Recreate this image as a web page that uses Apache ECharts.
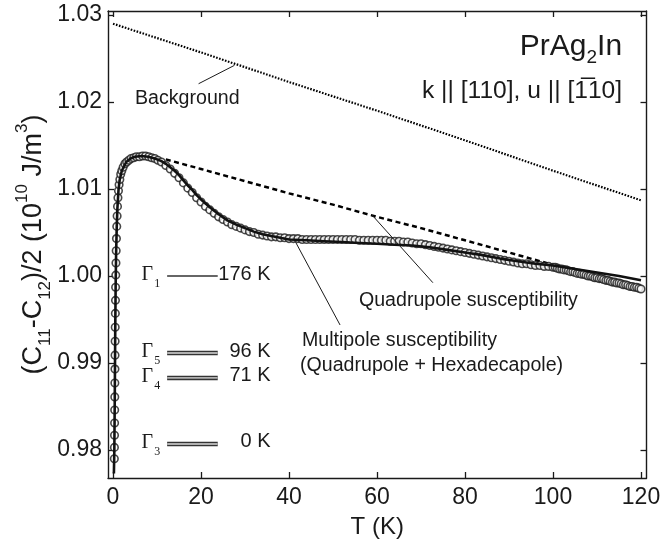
<!DOCTYPE html>
<html>
<head>
<meta charset="utf-8">
<title>PrAg2In elastic constant</title>
<script src="https://cdn.jsdelivr.net/npm/echarts@6/dist/echarts.min.js"></script>
<style>
html, body { margin: 0; padding: 0; background: #fff; }
#chart { width: 663px; height: 547px; }
</style>
</head>
<body>
<div id="chart"></div>
<script>
//measured circles: T (K) and (C11-C12)/2 (10^10 J/m^3)
var dataT = [0.30, 0.32, 0.34, 0.36, 0.38, 0.40, 0.42, 0.44, 0.46, 0.48, 0.50, 0.53, 0.56, 0.59, 0.63, 0.67, 0.72, 0.78, 0.85, 0.93,
    1.02, 1.12, 1.24, 1.38, 1.55, 1.75, 2.0, 2.3, 2.7, 3.1, 3.6, 4.1, 4.7, 5.3, 6.0, 6.7, 7.4, 8.1, 8.8, 9.5, 10.2,
    11, 12, 13, 14, 15, 16, 17, 18, 19, 20, 21, 22, 23, 24, 25, 26, 27, 28, 29, 30, 31, 32, 33, 34, 35, 36, 37, 38, 39, 40,
    41, 42, 43, 44, 45, 46, 47, 48, 49, 50, 51, 52, 53, 54, 55, 56, 57, 58, 59, 60, 61, 62, 63, 64, 65, 66, 67, 68, 69, 70,
    71, 72, 73, 74, 75, 76, 77, 78, 79, 80, 81, 82, 83, 84, 85, 86, 87, 88, 89, 90, 91, 92, 93, 94, 95, 96, 97, 98, 99, 100,
    100.5, 101, 101.5, 102, 102.5, 103, 103.5, 104, 104.5, 105, 105.5, 106, 106.5, 107, 107.5, 108, 108.5, 109, 109.5, 110,
    110.5, 111, 111.5, 112, 112.5, 113, 113.5, 114, 114.5, 115, 115.5, 116, 116.5, 117, 117.5, 118, 118.5, 119, 119.5, 120];
var dataC = [0.9790, 0.9803, 0.9817, 0.9831, 0.9846, 0.9861, 0.9877, 0.9893, 0.9909, 0.9925, 0.9941, 0.9957, 0.9972, 0.9987, 1.0001, 1.0015, 1.0029, 1.0043, 1.0057, 1.0069,
    1.0080, 1.0090, 1.0098, 1.0105, 1.0111, 1.0117, 1.0121, 1.0125, 1.0129, 1.0131, 1.0133, 1.0135, 1.0136, 1.0137, 1.0137, 1.0138, 1.0138, 1.0137, 1.0136, 1.0135, 1.0133,
    1.0131, 1.0127, 1.0123, 1.0118, 1.0113, 1.0107, 1.0101, 1.0096, 1.0090, 1.0085, 1.0080, 1.0076, 1.0072, 1.0068, 1.0065, 1.0062, 1.0059, 1.0057, 1.0055, 1.0053, 1.0051, 1.0050, 1.0048, 1.0047, 1.0046, 1.0045, 1.0045, 1.0044, 1.0044, 1.0043,
    1.0043, 1.0043, 1.0042, 1.0042, 1.0042, 1.0042, 1.0042, 1.0042, 1.0042, 1.0042, 1.0042, 1.0042, 1.0042, 1.0042, 1.0042, 1.0041, 1.0041, 1.0041, 1.0041, 1.0041, 1.0041, 1.0041, 1.0040, 1.0040, 1.0040, 1.0039, 1.0039, 1.0038, 1.0037, 1.0037,
    1.0036, 1.0035, 1.0034, 1.0033, 1.0032, 1.0031, 1.0030, 1.0029, 1.0028, 1.0027, 1.0026, 1.0025, 1.0024, 1.0023, 1.0022, 1.0021, 1.0020, 1.0019, 1.0018, 1.0017, 1.0016, 1.0015, 1.0014, 1.0014, 1.0013, 1.0012, 1.0012, 1.0011, 1.0011, 1.0010,
    1.0010, 1.0009, 1.0008, 1.0008, 1.0007, 1.0007, 1.0006, 1.0005, 1.0005, 1.0004, 1.0003, 1.0003, 1.0002, 1.0002, 1.0001, 1.0000, 1.0000, 0.9999, 0.9998, 0.9998,
    0.9997, 0.9997, 0.9996, 0.9995, 0.9995, 0.9994, 0.9993, 0.9993, 0.9992, 0.9992, 0.9991, 0.9990, 0.9990, 0.9989, 0.9988, 0.9988, 0.9987, 0.9987, 0.9986, 0.9985];

//multipole susceptibility fit (solid)
var multiT = [0.20, 0.30, 0.40, 0.50, 0.60, 0.70, 0.85, 1.0, 1.25, 1.5, 2.0, 3.0, 4.0, 5.0, 6.5, 8.0, 9.5, 11, 12, 13, 14, 15, 16, 17, 18, 19, 20,
    22, 24, 26, 28, 30, 32, 34, 36, 38, 40, 44, 48, 52, 56, 60, 64, 68, 72, 76, 80, 84, 88, 92, 96, 100, 105, 110, 115, 120];
var multiC = [0.9773, 0.9800, 0.9860, 0.9935, 0.9990, 1.0025, 1.0057, 1.0078, 1.0099, 1.0110, 1.0121, 1.0131, 1.0135, 1.0137, 1.0138, 1.0137, 1.0135, 1.0132, 1.0129, 1.0125, 1.0121, 1.0116, 1.0110, 1.0104, 1.0099, 1.0093, 1.0088,
    1.0079, 1.0071, 1.0064, 1.0059, 1.0055, 1.0051, 1.0048, 1.0046, 1.0044, 1.0042, 1.0041, 1.0040, 1.0039, 1.0038, 1.0037, 1.0036, 1.0035, 1.0033, 1.0030, 1.0027, 1.0024, 1.0020, 1.0017, 1.0014, 1.0012, 1.0008, 1.0004, 1.0000, 0.9995];

//quadrupole susceptibility fit (dashed)
var quadT = [12, 20, 30, 40, 50, 60, 70, 80, 90, 97, 100];
var quadC = [1.0134, 1.0123, 1.0109, 1.0095, 1.0082, 1.0068, 1.0055, 1.0041, 1.0027, 1.0017, 1.0013];

//background (dotted)
var bgT = [0, 20, 40, 60, 80, 100, 120];
var bgC = [1.0290, 1.0257, 1.0223, 1.0190, 1.0156, 1.0121, 1.0087];

//CEF levels
var levelNames = ['1', '5', '4', '3'];
var levelLabels = ['176 K', '96 K', '71 K', '0 K'];
var levelC = [1.0000, 0.99115, 0.98828, 0.98069];
var levelDouble = [false, true, true, true];

var xTicks = [0, 20, 40, 60, 80, 100, 120];
var yTicks = [0.98, 0.99, 1.00, 1.01, 1.02, 1.03];

var FONT = "'Liberation Sans', Arial, Helvetica, sans-serif";
var SERIF = "'Liberation Serif', 'Times New Roman', serif";
var INK = '#1a1a1a';

function zip(xs, ys) {
    var out = [];
    for (var i = 0, len = xs.length; i < len; i++) {
        out.push([xs[i], ys[i]]);
    }
    return out;
}

function frameAxis(pos, isX, showLabel) {
    var ticks = isX ? xTicks : yTicks;
    return {
        type: 'value',
        position: pos,
        min: isX ? -1.14 : 0.97678,
        max: isX ? 121.25 : 1.03046,
        nameMoveOverlap: false,
        axisLine: { show: true, onZero: false, lineStyle: { color: INK, width: 1.4 } },
        axisTick: { show: true, inside: true, length: 6, customValues: ticks, lineStyle: { color: INK, width: 1.3 } },
        axisLabel: {
            show: showLabel,
            customValues: ticks,
            fontSize: 23,
            fontFamily: FONT,
            color: INK,
            margin: isX ? 8 : 6,
            formatter: function(v) { return isX ? String(Math.round(v)) : v.toFixed(2); }
        },
        splitLine: { show: false }
    };
}

var xBottom = frameAxis('bottom', true, true);
xBottom.name = 'T (K)';
xBottom.nameLocation = 'middle';
xBottom.nameGap = 37;
xBottom.nameTextStyle = { fontSize: 24, fontFamily: FONT, color: INK };

var yLeft = frameAxis('left', false, true);
yLeft.name = '(C{s|11}-C{s|12})/2 (10{p|10} J/m{p|3})';
yLeft.nameLocation = 'middle';
yLeft.nameGap = 74;
yLeft.nameTextStyle = {
    fontSize: 27, fontFamily: FONT, color: INK, lineHeight: 40, verticalAlign: 'middle',
    rich: {
        s: { fontSize: 17, fontFamily: FONT, color: INK, lineHeight: 17, verticalAlign: 'bottom' },
        p: { fontSize: 17, fontFamily: FONT, color: INK, lineHeight: 17, verticalAlign: 'top' }
    }
};

var series = [];

series.push({
    type: 'line', name: 'Background', data: zip(bgT, bgC), showSymbol: false, z: 2,
    lineStyle: { color: '#000', width: 2.2, type: [1.6, 1.5] }
});
series.push({
    type: 'line', name: 'Quadrupole', data: zip(quadT, quadC), showSymbol: false, z: 2,
    lineStyle: { color: '#000', width: 2.5, type: [5, 3.5] }
});
series.push({
    type: 'scatter', name: 'data', data: zip(dataT, dataC), symbol: 'circle', symbolSize: 7.5, z: 3,
    itemStyle: { color: '#fff', borderColor: '#1a1a1a', borderWidth: 1.6 }
});
series.push({
    type: 'line', name: 'Multipole', data: zip(multiT, multiC), showSymbol: false, z: 4,
    lineStyle: { color: '#111', width: 2.6 }
});

//energy level bars
for (var i = 0; i < levelC.length; i++) {
    var seg = [[12.3, levelC[i]], [23.8, levelC[i]]];
    if (levelDouble[i]) {
        series.push({ type: 'line', data: seg, showSymbol: false, silent: true, z: 5, lineStyle: { color: '#333', width: 4.5 } });
        series.push({ type: 'line', data: seg, showSymbol: false, silent: true, z: 6, lineStyle: { color: '#b0b0b0', width: 1.8 } });
    } else {
        series.push({ type: 'line', data: seg, showSymbol: false, silent: true, z: 5, lineStyle: { color: '#333', width: 1.4 } });
    }
}

var option = {
    animation: false,
    backgroundColor: '#fff',
    grid: { left: 108, right: 16.5, top: 11, bottom: 69, containLabel: false, outerBoundsMode: 'none' },
    xAxis: [xBottom, frameAxis('top', true, false)],
    yAxis: [yLeft, frameAxis('right', false, false)],
    series: series
};

var chart = echarts.init(document.getElementById('chart'));
chart.setOption(option);

//annotations anchored in data coordinates
var notes = [
    { text: 'Background', at: [5.0, 1.0204] },
    { text: 'Quadrupole susceptibility', at: [55.9, 0.99721] },
    { text: 'Multipole susceptibility', at: [42.95, 0.99255] },
    { text: '(Quadrupole + Hexadecapole)', at: [42.5, 0.98971] }
];
var leaders = [
    [[19.45, 1.0221], [27.6, 1.02421]],
    [[72.7, 0.99923], [58.8, 1.00705]],
    [[51.6, 0.99437], [41.5, 1.00389]]
];

function px(p) {
    return chart.convertToPixel({ xAxisIndex: 0, yAxisIndex: 0 }, p);
}

function textEl(x, y, text, size, align, family, rich, lh) {
    return {
        type: 'text', x: x, y: y, z: 20, silent: true,
        style: {
            text: text, fontSize: size, fontFamily: family || FONT, fill: INK,
            align: align, textAlign: align, verticalAlign: 'middle', textVerticalAlign: 'middle',
            lineHeight: lh, rich: rich
        }
    };
}

function buildGraphic() {
    var g = [];
    var i, p, a, b;
    for (i = 0; i < notes.length; i++) {
        p = px(notes[i].at);
        g.push(textEl(p[0], p[1], notes[i].text, 19.6, 'left'));
    }
    for (i = 0; i < leaders.length; i++) {
        a = px(leaders[i][0]);
        b = px(leaders[i][1]);
        g.push({ type: 'line', z: 20, silent: true, shape: { x1: a[0], y1: a[1], x2: b[0], y2: b[1] }, style: { stroke: INK, lineWidth: 1 } });
    }
    //level names and energies
    for (i = 0; i < levelC.length; i++) {
        a = px([6.5, levelC[i]]);
        g.push(textEl(a[0], a[1] - 1, '{g|\u0393}{s|' + levelNames[i] + '}', 20, 'left', SERIF, {
            g: { fontSize: 20, fontFamily: SERIF, fill: INK, lineHeight: 30, verticalAlign: 'middle' },
            s: { fontSize: 12, fontFamily: SERIF, fill: INK, verticalAlign: 'bottom', lineHeight: 12, padding: [0, 0, 0, 1] }
        }, 30));
        b = px([35.8, levelC[i]]);
        g.push(textEl(b[0], b[1] - 2, levelLabels[i], 20, 'right'));
    }
    //compound and geometry
    a = px([115.7, 1.02667]);
    g.push(textEl(a[0], a[1] + 3, '{b|PrAg}{s|2}{b|In}', 30, 'right', FONT, {
        b: { fontSize: 30, fontFamily: FONT, fill: INK, lineHeight: 40, verticalAlign: 'middle' },
        s: { fontSize: 19, fontFamily: FONT, fill: INK, verticalAlign: 'bottom', lineHeight: 19 }
    }, 40));
    a = px([115.7, 1.02126]);
    g.push(textEl(a[0], a[1], 'k || [110], u || [1\u030510]', 24.6, 'right'));
    return g;
}

chart.setOption({ graphic: buildGraphic() });
</script>
</body>
</html>
